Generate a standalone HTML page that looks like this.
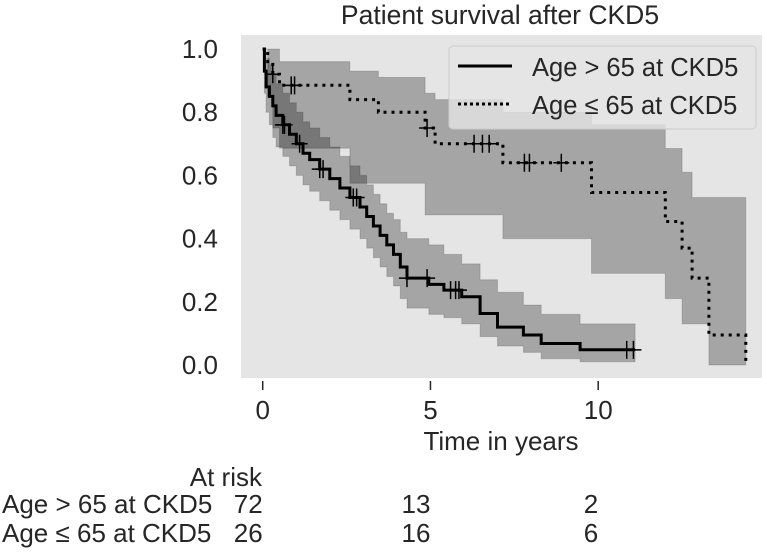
<!DOCTYPE html>
<html><head><meta charset="utf-8"><style>
body{margin:0;background:#fff;width:767px;height:553px;overflow:hidden;font-family:"Liberation Sans","DejaVu Sans",sans-serif;}
svg text{font-family:"Liberation Sans","DejaVu Sans",sans-serif;fill:#262626;}
</style></head><body>
<svg id="chart" width="767" height="553" viewBox="0 0 767 553" xmlns="http://www.w3.org/2000/svg">
<text x="500" y="24" font-size="26.5" text-anchor="middle">Patient survival after CKD5</text>
<rect x="241" y="35" width="521" height="343" fill="#e5e5e5"/>
<g id="bands"></g><g id="lines"></g><g id="ticks"></g>
<g>
<rect x="449" y="46" width="307" height="83" rx="4" fill="rgba(229,229,229,0.8)" stroke="#cccccc"/>
<line x1="458" y1="66" x2="512" y2="66" stroke="#000" stroke-width="3"/>
<text x="532" y="76" font-size="25.5">Age &gt; 65 at CKD5</text>
<line x1="458" y1="104" x2="512" y2="104" stroke="#000" stroke-width="3" stroke-dasharray="3,3"/>
<text x="532" y="114" font-size="25.5">Age ≤ 65 at CKD5</text>
</g>
<text x="501" y="450" font-size="26" text-anchor="middle">Time in years</text>
<g>
<text x="262" y="486" text-anchor="end" font-size="26">At risk</text>
<text x="2" y="513" font-size="26">Age &gt; 65 at CKD5</text>
<text x="2" y="542" font-size="26">Age ≤ 65 at CKD5</text>
</g>
<g id="risk"></g>
</svg>
<script>
const riskTimes=[0,5,10];
const riskOlder=[72,13,2];
const riskYounger=[26,16,6];
const yTicks=[0,0.2,0.4,0.6,0.8,1.0];
const xTicks=[0,5,10];
const olderT=[0,0.05,0.1,0.2,0.3,0.4,0.6,0.8,1.0,1.2,1.4,1.7,2.0,2.3,2.6,2.9,3.1,3.3,3.5,3.7,3.9,4.1,4.3,4.95,5.4,5.93,6.48,7.0,7.77,8.3,9.46];
const olderS=[1,0.93,0.88,0.85,0.82,0.79,0.76,0.73,0.70,0.67,0.65,0.62,0.59,0.56,0.53,0.50,0.47,0.44,0.41,0.38,0.35,0.31,0.275,0.255,0.237,0.216,0.163,0.12,0.095,0.068,0.048];
const olderHi=[1,1,0.97,0.95,0.92,0.89,0.86,0.83,0.80,0.77,0.75,0.72,0.69,0.66,0.63,0.60,0.57,0.54,0.51,0.48,0.46,0.42,0.40,0.38,0.35,0.32,0.27,0.23,0.19,0.16,0.13];
const olderLo=[1,0.86,0.80,0.76,0.72,0.69,0.66,0.63,0.60,0.57,0.55,0.52,0.49,0.46,0.43,0.40,0.37,0.34,0.31,0.28,0.25,0.21,0.18,0.16,0.15,0.13,0.09,0.06,0.04,0.02,0.01];
const olderEnd=11.1;
const olderCens=[0.6,0.65,1.1,1.7,1.8,2.7,2.8,4.3,4.9,5.6,5.75,5.85,10.85,11.05];
const youngT=[0,0.15,0.3,0.5,2.6,3.45,4.84,5.14,7.16,9.8,12.0,12.5,12.8,13.3,14.4];
const youngS=[1,0.96,0.92,0.885,0.84,0.80,0.75,0.70,0.64,0.546,0.454,0.37,0.275,0.095,0];
const youngHi=[1,1,1,0.96,0.93,0.91,0.86,0.84,0.80,0.76,0.685,0.61,0.53,0.53,0.53];
const youngLo=[1,0.85,0.75,0.686,0.575,0.575,0.475,0.475,0.40,0.29,0.21,0.13,0.13,0.0,0];
const youngEnd=14.4;
const youngCens=[0.3,0.85,0.95,4.9,6.3,6.55,6.75,7.8,7.95,8.9];

const NS='http://www.w3.org/2000/svg';
const X=t=>262.7+t*33.55;
const Y=s=>365-s*316;
function mk(tag,attrs,parent){const e=document.createElementNS(NS,tag);for(const k in attrs)e.setAttribute(k,attrs[k]);parent.appendChild(e);return e;}
function stepPts(T,S,end){let p=[];for(let i=0;i<T.length;i++){const x1=X(T[i]),x2=X(i+1<T.length?T[i+1]:end);p.push([x1,Y(S[i])],[x2,Y(S[i])]);}return p;}
function valAt(T,S,t){let v=S[0];for(let i=0;i<T.length;i++){if(T[i]<=t)v=S[i];}return v;}
const bands=document.getElementById('bands'),lines=document.getElementById('lines'),ticks=document.getElementById('ticks'),risk=document.getElementById('risk');
function band(T,Hi,Lo,end,name){const up=stepPts(T,Hi,end),lo=stepPts(T,Lo,end).reverse();const d='M'+up.concat(lo).map(p=>p[0].toFixed(1)+','+p[1].toFixed(1)).join('L')+'Z';
const e=mk('path',{d:d,fill:'#000','fill-opacity':0.28,stroke:'#000','stroke-opacity':0.15},bands);

}
band(youngT,youngHi,youngLo,youngEnd,'ci-band-younger');
band(olderT,olderHi,olderLo,olderEnd,'ci-band-older');
function curve(T,S,end,name,dash){const pts=stepPts(T,S,end);let d='M'+pts.map(p=>p[0].toFixed(1)+','+p[1].toFixed(1)).join('L');
const e=mk('path',{d:d,fill:'none',stroke:'#000','stroke-width':3,'stroke-dasharray':dash},lines);

}
curve(youngT,youngS,youngEnd,'survival-line-younger','3,5');
curve(olderT,olderS,olderEnd,'survival-line-older','none');
function cens(T,S,C,name){C.forEach(t=>{const x=X(t),y=Y(valAt(T,S,t));
const g=mk('path',{d:`M${x-8},${y}L${x+8},${y}M${x},${y-9}L${x},${y+9}`,stroke:'#000','stroke-width':1.5},lines);

});}
cens(youngT,youngS,youngCens,'censor-mark-younger');
cens(olderT,olderS,olderCens,'censor-mark-older');
yTicks.forEach(v=>{const t=mk('text',{x:218,y:Y(v)+9,'font-size':26,'text-anchor':'end'},ticks);t.textContent=v.toFixed(1);

});
xTicks.forEach(v=>{const l=mk('line',{x1:X(v),x2:X(v),y1:381,y2:390,stroke:'#262626','stroke-width':1.5},ticks);


const t=mk('text',{x:X(v),y:419,'font-size':26,'text-anchor':'middle'},ticks);t.textContent=v;

});
riskTimes.forEach((tt,i)=>{[[riskOlder,513,'at-risk-older-value'],[riskYounger,542,'at-risk-younger-value']].forEach(([arr,y,nm])=>{
const t=mk('text',{x:X(tt),y:y,'font-size':26,'text-anchor':'end'},risk);t.textContent=arr[i];

});});
</script>
</body></html>
